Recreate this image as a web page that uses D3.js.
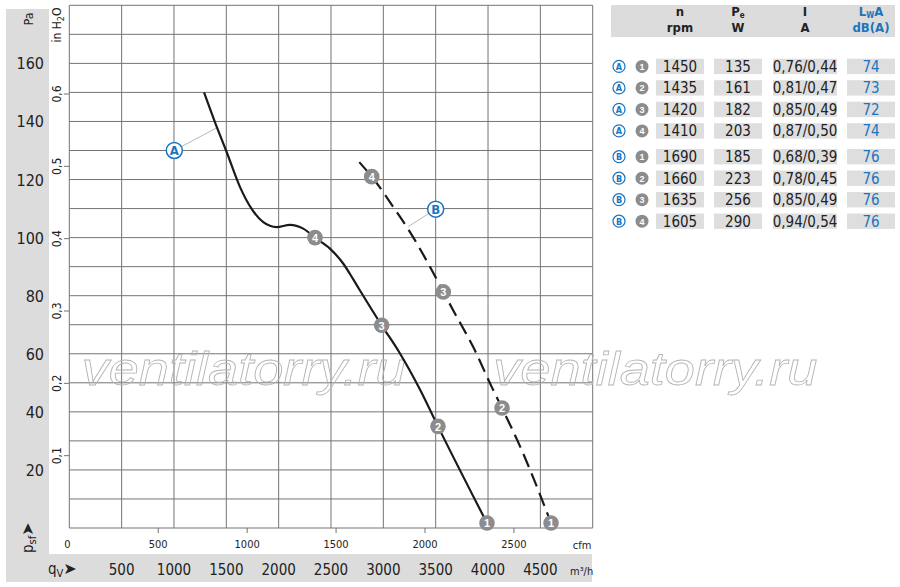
<!DOCTYPE html>
<html>
<head>
<meta charset="utf-8">
<script src="https://cdn.jsdelivr.net/npm/d3@7"></script>
<style>
  html, body { margin: 0; padding: 0; background: #fff; }
  svg { display: block; }
  text { font-family: "Liberation Sans Narrow", "Arial Narrow", "DejaVu Sans Condensed", sans-serif; }
</style>
</head>
<body>
<svg id="chart" width="900" height="587"></svg>
<script>
// fan curve data (q in m3/h, p in Pa)
const curveA = [
  [1287, 150.0], [1392, 139.7], [1504, 129.4], [1631, 117.4], [1742, 109.9],
  [1853, 105.3], [1981, 103.6], [2108, 104.4], [2235, 103.1], [2347, 100.0],
  [2490, 96.2], [2618, 91.0], [2713, 85.6], [2777, 81.8], [2984, 69.8],
  [3159, 60.1], [3350, 47.7], [3522, 35.0], [3990, 1.7]
];
const curveB = [
  [2770, 126.0], [2889, 121.0], [3128, 108.8], [3255, 101.9], [3430, 91.0],
  [3573, 81.3], [3685, 73.8], [3859, 62.3], [4035, 48.6], [4134, 41.3],
  [4322, 26.8], [4602, 1.7]
];
// operating points 1..4 on each curve
const pointsA = [[1, 3990, 1.7], [2, 3522, 35.0], [3, 2984, 69.8], [4, 2347, 100.0]];
const pointsB = [[1, 4602, 1.7], [2, 4134, 41.3], [3, 3573, 81.3], [4, 2889, 121.0]];
// callout bubbles: letter, bubble position, point on curve
const callouts = [
  ["A", [1003, 130.0], [1407, 137.8]],
  ["B", [3500, 109.8], [3238, 103.8]]
];

const paTicks = [20, 40, 60, 80, 100, 120, 140, 160];
const inH2OTicks = [0.1, 0.2, 0.3, 0.4, 0.5, 0.6];
const m3hTicks = [500, 1000, 1500, 2000, 2500, 3000, 3500, 4000, 4500];
const cfmTicks = [0, 500, 1000, 1500, 2000, 2500];

// table
const tableCurve = ["A", "A", "A", "A", "B", "B", "B", "B"];
const tablePoint = [1, 2, 3, 4, 1, 2, 3, 4];
const tableRpm = ["1450", "1435", "1420", "1410", "1690", "1660", "1635", "1605"];
const tablePower = ["135", "161", "182", "203", "185", "223", "256", "290"];
const tableCurrent = ["0,76/0,44", "0,81/0,47", "0,85/0,49", "0,87/0,50",
                      "0,68/0,39", "0,78/0,45", "0,85/0,49", "0,94/0,54"];
const tableLwa = ["74", "73", "72", "74", "76", "76", "76", "76"];

const PA_PER_INH2O = 249.09;
const M3H_PER_CFM = 1.699;

const blue = "#1b74bd";
const bandGray = "#dcdcdc";
const gridColor = "#747474";

const svg = d3.select("#chart");

const x = d3.scaleLinear().domain([0, 5000]).range([69.3, 592.7]);
const y = d3.scaleLinear().domain([0, 180]).range([528, 5.3]);

// gray L-shaped band for the axis labels
svg.append("rect").attr("x", 6).attr("y", 9).attr("width", 43).attr("height", 573).attr("fill", bandGray);
svg.append("rect").attr("x", 6).attr("y", 554).attr("width", 586).attr("height", 28).attr("fill", bandGray);

// grid
const grid = svg.append("g").attr("class", "grid");
grid.selectAll(".vline")
  .data(d3.range(0, 5001, 500))
  .enter().append("line")
  .attr("x1", d => x(d)).attr("x2", d => x(d))
  .attr("y1", y(0)).attr("y2", y(180))
  .attr("stroke", gridColor).attr("stroke-width", 1);
grid.selectAll(".hline")
  .data(d3.range(0, 181, 10))
  .enter().append("line")
  .attr("x1", x(0)).attr("x2", x(5000))
  .attr("y1", d => y(d)).attr("y2", d => y(d))
  .attr("stroke", gridColor).attr("stroke-width", 1);

// watermark (outlined text)
[81.7, 493.3].forEach(x0 => {
  svg.append("text")
    .attr("x", x0).attr("y", 385)
    .attr("textLength", 324).attr("lengthAdjust", "spacingAndGlyphs")
    .style("font-family", "'Liberation Sans', Arial, sans-serif")
    .style("font-style", "italic")
    .style("font-size", "47px")
    .attr("fill", "none").attr("stroke", "#b4b4b4").attr("stroke-width", 0.8)
    .text("ventilatorry.ru");
});

// Pa labels
svg.append("g").selectAll("text")
  .data(paTicks)
  .enter().append("text")
  .attr("x", 44).attr("y", d => y(d) + 6)
  .attr("text-anchor", "end")
  .style("font-size", "16px").attr("fill", "#222")
  .text(d => d);

svg.append("text")
  .attr("transform", "translate(33,19) rotate(-90)")
  .attr("text-anchor", "middle")
  .style("font-size", "12px").attr("fill", "#222")
  .text("Pa");

// in H2O axis
const inAxis = svg.append("g");
inAxis.selectAll("line")
  .data(inH2OTicks)
  .enter().append("line")
  .attr("x1", 64).attr("x2", x(0))
  .attr("y1", d => y(d * PA_PER_INH2O)).attr("y2", d => y(d * PA_PER_INH2O))
  .attr("stroke", gridColor);
inAxis.selectAll("text")
  .data(inH2OTicks)
  .enter().append("text")
  .attr("transform", d => `translate(61,${y(d * PA_PER_INH2O)}) rotate(-90)`)
  .attr("text-anchor", "middle")
  .style("font-size", "12px").attr("fill", "#222")
  .text(d => d3.format(".1f")(d).replace(".", ","));

const inLabel = svg.append("text")
  .attr("transform", "translate(61,25) rotate(-90)")
  .attr("text-anchor", "middle")
  .style("font-size", "12px").attr("fill", "#222");
inLabel.append("tspan").text("in H");
inLabel.append("tspan").attr("dy", 3).style("font-size", "9px").text("2");
inLabel.append("tspan").attr("dy", -3).text("O");

// p_sf label
const psf = svg.append("text")
  .attr("transform", "translate(33,553) rotate(-90)")
  .style("font-size", "15px").attr("fill", "#222");
psf.append("tspan").text("p");
psf.append("tspan").attr("dy", 3).style("font-size", "11px").text("sf");
psf.append("tspan").attr("dy", -3).style("font-family", "'DejaVu Sans', sans-serif").style("font-size", "16px").text("➤");

// cfm axis
const cfmAxis = svg.append("g");
cfmAxis.selectAll("line")
  .data(cfmTicks.filter(d => d > 0))
  .enter().append("line")
  .attr("x1", d => x(d * M3H_PER_CFM)).attr("x2", d => x(d * M3H_PER_CFM))
  .attr("y1", y(0)).attr("y2", y(0) + 5)
  .attr("stroke", gridColor);
cfmAxis.selectAll("text")
  .data(cfmTicks)
  .enter().append("text")
  .attr("x", d => x(d * M3H_PER_CFM) - (d === 0 ? 2 : 0)).attr("y", 548)
  .attr("text-anchor", "middle")
  .style("font-size", "11px").attr("fill", "#222")
  .text(d => d);
svg.append("text")
  .attr("x", 582).attr("y", 549).attr("text-anchor", "middle")
  .style("font-size", "11px").attr("fill", "#222")
  .text("cfm");

// m3/h axis in the band
svg.append("g").selectAll("text")
  .data(m3hTicks)
  .enter().append("text")
  .attr("x", d => x(d)).attr("y", 575)
  .attr("text-anchor", "middle")
  .style("font-size", "15px").attr("fill", "#222")
  .text(d => d);
svg.append("text")
  .attr("x", 570).attr("y", 575)
  .style("font-size", "11px").attr("fill", "#222")
  .text("m³/h");

const qv = svg.append("text")
  .attr("x", 48).attr("y", 574)
  .style("font-size", "15px").attr("fill", "#222");
qv.append("tspan").text("q");
qv.append("tspan").attr("dy", 3).style("font-size", "11px").text("V");
qv.append("tspan").attr("dy", -3).style("font-family", "'DejaVu Sans', sans-serif").style("font-size", "16px").text("➤");

// callout leaders and bubbles
const line = d3.line()
  .x(d => x(d[0]))
  .y(d => y(d[1]))
  .curve(d3.curveMonotoneX);

callouts.forEach(([label, bubble, target]) => {
  svg.append("line")
    .attr("x1", x(bubble[0])).attr("y1", y(bubble[1]))
    .attr("x2", x(target[0])).attr("y2", y(target[1]))
    .attr("stroke", "#b8b8b8").attr("stroke-width", 1);
});

// curves
svg.append("path")
  .datum(curveA)
  .attr("d", line)
  .attr("fill", "none").attr("stroke", "#1a1a1a").attr("stroke-width", 2.2);
svg.append("path")
  .datum(curveB)
  .attr("d", line)
  .attr("fill", "none").attr("stroke", "#1a1a1a").attr("stroke-width", 2.2)
  .attr("stroke-dasharray", "14,7");

callouts.forEach(([label, bubble]) => {
  svg.append("circle")
    .attr("cx", x(bubble[0])).attr("cy", y(bubble[1])).attr("r", 8)
    .attr("fill", "#fff").attr("stroke", blue).attr("stroke-width", 1.5);
  svg.append("text")
    .attr("x", x(bubble[0])).attr("y", y(bubble[1]) + 4.5)
    .attr("text-anchor", "middle")
    .style("font-size", "13px").style("font-weight", "bold").attr("fill", blue)
    .text(label);
});

// numbered operating points
function drawPoints(points) {
  const g = svg.append("g");
  const pt = g.selectAll("g")
    .data(points)
    .enter().append("g")
    .attr("transform", d => `translate(${x(d[1])},${y(d[2])})`);
  pt.append("circle").attr("r", 7.8).attr("fill", "#8c8c8c");
  pt.append("text")
    .attr("y", 4.3).attr("text-anchor", "middle")
    .style("font-family", "'Liberation Sans', Arial, sans-serif")
    .style("font-size", "11px").style("font-weight", "bold").attr("fill", "#fff")
    .text(d => d[0]);
}
drawPoints(pointsA);
drawPoints(pointsB);

// table
const table = svg.append("g");
table.append("rect").attr("x", 611).attr("y", 5).attr("width", 284).attr("height", 32).attr("fill", bandGray);

const colCenters = [680, 738, 805, 871];
const cellX = [[656, 704], [714, 762], [773, 837], [847, 895]];

function header(cx, ytop, parts, color) {
  const t = table.append("text")
    .attr("x", cx).attr("y", ytop).attr("text-anchor", "middle")
    .style("font-size", "13px").style("font-weight", "bold").attr("fill", color);
  parts.forEach(([s, sub], k) => {
    const prevSub = k > 0 && parts[k - 1][1];
    t.append("tspan")
      .attr("dy", sub ? 2 : (prevSub ? -2 : 0))
      .style("font-size", sub ? "8px" : null)
      .text(s);
  });
}
header(colCenters[0], 16, [["n"]], "#222");
header(colCenters[0], 32, [["rpm"]], "#222");
header(colCenters[1], 16, [["P"], ["e", true]], "#222");
header(colCenters[1], 32, [["W"]], "#222");
header(colCenters[2], 16, [["I"]], "#222");
header(colCenters[2], 32, [["A"]], "#222");
header(colCenters[3], 16, [["L"], ["W", true], ["A"]], blue);
header(colCenters[3], 32, [["dB(A)"]], blue);

const rowY = i => 66.4 + i * 21.5 + (i >= 4 ? 4.3 : 0);
const columns = [tableRpm, tablePower, tableCurrent, tableLwa];

tableCurve.forEach((c, i) => {
  const cy = rowY(i);
  table.append("circle").attr("cx", 619).attr("cy", cy).attr("r", 6)
    .attr("fill", "#fff").attr("stroke", blue).attr("stroke-width", 1.2);
  table.append("text").attr("x", 619).attr("y", cy + 3.3).attr("text-anchor", "middle")
    .style("font-size", "9px").style("font-weight", "bold").attr("fill", blue).text(c);
  table.append("circle").attr("cx", 642).attr("cy", cy).attr("r", 6.5).attr("fill", "#8c8c8c");
  table.append("text").attr("x", 642).attr("y", cy + 3.5).attr("text-anchor", "middle")
    .style("font-family", "'Liberation Sans', Arial, sans-serif")
    .style("font-size", "9px").style("font-weight", "bold").attr("fill", "#fff").text(tablePoint[i]);
  columns.forEach((col, j) => {
    table.append("rect")
      .attr("x", cellX[j][0]).attr("y", cy - 7.7)
      .attr("width", cellX[j][1] - cellX[j][0]).attr("height", 15.4)
      .attr("fill", "#dedede");
    table.append("text")
      .attr("x", (cellX[j][0] + cellX[j][1]) / 2).attr("y", cy + 5.3)
      .attr("text-anchor", "middle")
      .style("font-size", "15px").attr("fill", j === 3 ? blue : "#222")
      .text(col[i]);
  });
});
</script>
</body>
</html>
